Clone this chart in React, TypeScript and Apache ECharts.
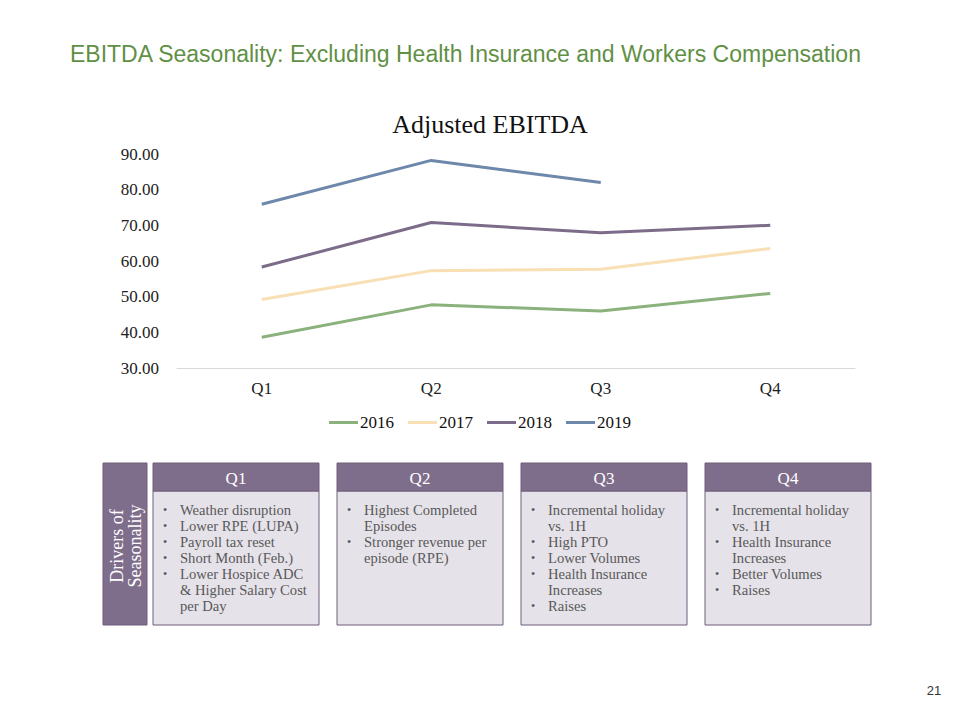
import React, { useEffect, useRef } from "react";
import * as echarts from "echarts";

const categories = ["Q1", "Q2", "Q3", "Q4"];
const seriesNames = ["2016", "2017", "2018", "2019"];
const values2016 = [38.6, 47.7, 46.0, 50.9];
const values2017 = [49.2, 57.3, 57.7, 63.5];
const values2018 = [58.3, 70.8, 67.9, 70.0];
const values2019 = [75.9, 88.2, 82.0, null];
const seriesColors = ["#8BB17D", "#F8DFB4", "#7C6C89", "#6D88AB"];

const boxTitles = ["Q1", "Q2", "Q3", "Q4"];
const boxBullets: string[][][] = [
  [["Weather disruption"], ["Lower RPE (LUPA)"], ["Payroll tax reset"], ["Short Month (Feb.)"], ["Lower Hospice ADC", "& Higher Salary Cost", "per Day"]],
  [["Highest Completed", "Episodes"], ["Stronger revenue per", "episode (RPE)"]],
  [["Incremental holiday", "vs. 1H"], ["High PTO"], ["Lower Volumes"], ["Health Insurance", "Increases"], ["Raises"]],
  [["Incremental holiday", "vs. 1H"], ["Health Insurance", "Increases"], ["Better Volumes"], ["Raises"]],
];

const SERIF = "'Liberation Serif', 'DejaVu Serif', serif";
const SANS = "'Liberation Sans', Arial, sans-serif";

export default function App() {
  const ref = useRef<HTMLDivElement>(null);
  useEffect(() => {
    if (!ref.current) return;
    const chart = echarts.init(ref.current, null, { renderer: "svg" });
    const data = [values2016, values2017, values2018, values2019];

    const graphics: any[] = [];
    graphics.push({
      type: "text",
      x: 70,
      y: 54,
      style: { text: "EBITDA Seasonality: Excluding Health Insurance and Workers Compensation", fill: "#5F9045", font: `23px ${SANS}`, align: "left", verticalAlign: "middle", textAlign: "left", textVerticalAlign: "middle" },
    });
    graphics.push({
      type: "text",
      x: 934,
      y: 690,
      style: { text: "21", fill: "#333333", font: `13px ${SANS}`, align: "center", verticalAlign: "middle", textAlign: "center", textVerticalAlign: "middle" },
    });
    graphics.push({ type: "rect", shape: { x: 103, y: 463, width: 44, height: 162 }, style: { fill: "#7F6E8B", stroke: "#6E5F7A", lineWidth: 1 } });
    graphics.push({
      type: "text", x: 117, y: 546, rotation: Math.PI / 2,
      style: { text: "Drivers of", fill: "#FFFFFF", font: `18px ${SERIF}`, align: "center", verticalAlign: "middle", textAlign: "center", textVerticalAlign: "middle" },
    });
    graphics.push({
      type: "text", x: 135, y: 546, rotation: Math.PI / 2,
      style: { text: "Seasonality", fill: "#FFFFFF", font: `18px ${SERIF}`, align: "center", verticalAlign: "middle", textAlign: "center", textVerticalAlign: "middle" },
    });

    const boxX = [153, 337, 521, 705];
    const boxW = 166;
    boxTitles.forEach((t, i) => {
      const x = boxX[i];
      graphics.push({ type: "rect", shape: { x, y: 491, width: boxW, height: 134 }, style: { fill: "#E6E2E9", stroke: "#6E5F7A", lineWidth: 1 } });
      graphics.push({ type: "rect", shape: { x, y: 463, width: boxW, height: 28 }, style: { fill: "#7F6E8B", stroke: "#6E5F7A", lineWidth: 1 } });
      graphics.push({
        type: "text", x: x + boxW / 2, y: 478,
        style: { text: t, fill: "#FFFFFF", font: `17px ${SERIF}`, align: "center", verticalAlign: "middle", textAlign: "center", textVerticalAlign: "middle" },
      });
      let line = 0;
      boxBullets[i].forEach((bullet) => {
        const y0 = 510 + line * 16;
        graphics.push({
          type: "text", x: x + 10, y: y0,
          style: { text: "•", fill: "#595959", font: `12px ${SERIF}`, align: "left", verticalAlign: "middle", textAlign: "left", textVerticalAlign: "middle" },
        });
        bullet.forEach((l) => {
          graphics.push({
            type: "text", x: x + 27, y: 510 + line * 16,
            style: { text: l, fill: "#595959", font: `14.6px ${SERIF}`, align: "left", verticalAlign: "middle", textAlign: "left", textVerticalAlign: "middle" },
          });
          line++;
        });
      });
    });

    chart.setOption({
      animation: false,
      title: {
        text: "Adjusted EBITDA",
        left: 485,
        top: 106,
        textAlign: "center",
        textStyle: { fontFamily: SERIF, fontSize: 26, fontWeight: "normal", color: "#111111" },
      },
      legend: {
        data: seriesNames,
        top: 409,
        left: "center",
        icon: "rect",
        itemWidth: 29,
        itemHeight: 3,
        itemGap: 14,
        textStyle: { fontFamily: SERIF, fontSize: 17, color: "#111111", padding: [0, 0, 0, -3] },
      },
      grid: { left: 177, right: 105, top: 154, height: 214, containLabel: false },
      xAxis: {
        type: "category",
        data: categories,
        boundaryGap: true,
        axisLine: { lineStyle: { color: "#D9D9D9", width: 1 } },
        axisTick: { show: false },
        axisLabel: { fontFamily: SERIF, fontSize: 17, color: "#222222", margin: 12 },
      },
      yAxis: {
        type: "value",
        min: 30,
        max: 90,
        interval: 10,
        splitLine: { show: false },
        axisLine: { show: false },
        axisTick: { show: false },
        axisLabel: { fontFamily: SERIF, fontSize: 17, color: "#222222", margin: 18, formatter: (v: number) => v.toFixed(2) },
      },
      series: seriesNames.map((name, i) => ({
        name,
        type: "line",
        data: data[i],
        showSymbol: false,
        symbol: "none",
        lineStyle: { width: 3, color: seriesColors[i] },
        itemStyle: { color: seriesColors[i] },
      })),
      graphic: graphics,
    });
    return () => chart.dispose();
  }, []);
  return <div ref={ref} style={{ position: "fixed", left: 0, top: 0, width: 960, height: 720, background: "#FFFFFF" }} />;
}
